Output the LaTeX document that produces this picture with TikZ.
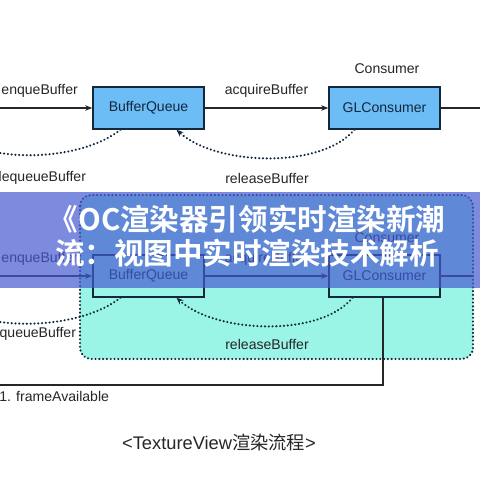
\documentclass[tikz,border=0pt]{standalone}
\usepackage{fontspec}
\setmainfont{Liberation Sans}
\newfontfamily\cjk{Noto Sans CJK SC}
\newfontfamily\cjkbold{Noto Sans CJK SC Bold}
\usetikzlibrary{arrows.meta,positioning}
\definecolor{boxblue}{HTML}{6CBCF6}
\definecolor{navy}{HTML}{13283D}
\definecolor{aqua}{HTML}{9AF5E6}
\definecolor{band}{RGB}{70,90,210}

\tikzset{
    box/.style={draw=navy, line width=1pt, fill=boxblue, minimum width=2.78cm, minimum height=1.05cm, text=navy, font=\fontsize{10}{12}\selectfont},
    lbl/.style={text=black!85, font=\fontsize{10}{12}\selectfont, inner sep=0pt},
    flow/.style={draw=black!85, line width=0.8pt},
    dotline/.style={draw=navy, line width=1.6pt, dash pattern=on 0.1pt off 2.6pt, line cap=round}
}

\begin{document}
\begin{tikzpicture}[x=0.025cm, y=-0.025cm, >={Stealth[length=5pt,width=4pt]}]
    \useasboundingbox[fill=white] (0,0) rectangle (480,480);

    % surface area of the TextureView
    \draw[dotline, fill=aqua, rounded corners=8pt] (80,195) rectangle (473,359);

    % upper flow
    \node[box] (bqA) at (148.5,108) {BufferQueue};
    \node[box] (glA) at (384.5,108) {GLConsumer};
    \node[lbl] (consA) at (387,69) {Consumer};
    \coordinate (inA) at (0,108);
    \coordinate (outA) at (480,108);
    \coordinate (deqA) at (0,153);
    \draw[flow,->] (inA) -- node[lbl, above=7pt, pos=0.43] {enqueBuffer} (bqA);
    \draw[flow,->] (bqA) -- node[lbl, above=7pt] {acquireBuffer} (glA);
    \draw[flow] (glA) -- (outA);
    \draw[dotline] (bqA.south) ++(-28,0) .. controls (95,150) and (45,160) .. (deqA);
    \draw[dotline,->] (glA.south) ++(-30,0) .. controls (320,170) and (215,165) .. ([xshift=0.7cm]bqA.south);
    \node[lbl] (deqlblA) at (40,178) {dequeueBuffer};
    \node[lbl] (rellblA) at (267,178) {releaseBuffer};

    % lower flow
    \node[box, fill=aqua] (bqB) at (148.5,276) {BufferQueue};
    \node[box, fill=aqua] (glB) at (384.5,276) {GLConsumer};
    \node[lbl] (consB) at (387,238) {Consumer};
    \coordinate (inB) at (0,276);
    \coordinate (outB) at (473,276);
    \coordinate (deqB) at (0,322);
    \coordinate (frameB) at (383,385);
    \coordinate (endB) at (0,385);
    \draw[flow,->] (inB) -- node[lbl, above=7pt, pos=0.43] {enqueBuffer} (bqB);
    \draw[flow,->] (bqB) -- node[lbl, above=7pt] {acquireBuffer} (glB);
    \draw[flow] (glB) -- (outB);
    \draw[dotline] (bqB.south) ++(-28,0) .. controls (95,318) and (45,328) .. (deqB);
    \draw[dotline,->] (glB.south) ++(-32,0) .. controls (320,338) and (215,333) .. ([xshift=0.7cm]bqB.south);
    \node[lbl] (deqlblB) at (30,334) {dequeueBuffer};
    \node[lbl] (rellblB) at (267,344) {releaseBuffer};
    \draw[flow] (glB.south -| frameB) -- (frameB) -- (endB);
    \node[lbl, anchor=west] (framelbl) at (-1,396) {1. frameAvailable};

    \node[lbl, font=\fontsize{13}{15}\selectfont] (caption) at (219,443) {<TextureView{\cjk 渲染流程}>};

    % title band on top
    \fill[band, opacity=0.7] (0,192) rectangle (480,288);
    \node[text=white, font=\cjkbold\fontsize{21}{24}\selectfont, align=center, inner sep=0pt] (title) at (247,236) {《OC渲染器引领实时渲染新潮\\流：视图中实时渲染技术解析};
\end{tikzpicture}
\end{document}
